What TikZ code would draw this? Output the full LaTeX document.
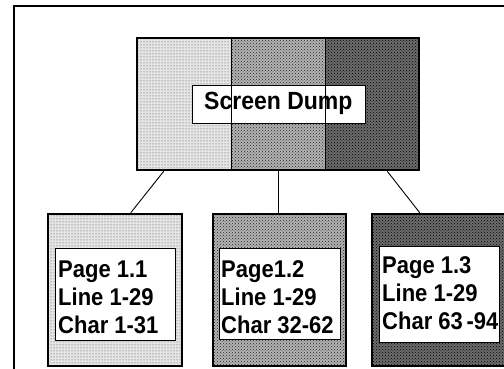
\documentclass[tikz,border=0pt]{standalone}
\usepackage{fontspec}
\setmainfont{Liberation Sans}
\usetikzlibrary{patterns,calc}
\begin{document}
\begin{tikzpicture}[x=1pt,y=-1pt,
  pat1/.style={preaction={fill=black!10}, pattern=dots, pattern color=black!75},
  pat2/.style={preaction={fill=black!30}, pattern=crosshatch dots, pattern color=black!85},
  pat3/.style={preaction={fill=black!58}, pattern=crosshatch dots, pattern color=black},
  bigbox/.style={draw, line width=2.5pt, inner sep=0pt, rectangle},
  label/.style={draw, fill=white, line width=0.9pt, inner sep=0pt, rectangle},
  btxt/.style={font=\bfseries\fontsize{22}{28}\selectfont, inner sep=0pt, anchor=base west, yscale=1.1, transform shape},
  conn/.style={line width=0.9pt}]
\useasboundingbox (0,0) rectangle (504,369);
\fill[white] (0,0) rectangle (504,369);
% outer frame
\draw[line width=1.8pt] (14,400) -- (14,6) -- (520,6);
% top box stripes
\fill[pat1] (137,38) rectangle (231,170);
\fill[pat2] (231,38) rectangle (325,170);
\fill[pat3] (325,38) rectangle (419,170);
\node[bigbox, minimum width=282pt, minimum height=132pt] (top) at (278,104) {};
\node[label, minimum width=173pt, minimum height=38pt] (sdbox) at (278.5,104) {};
\draw[line width=0.9pt] (231,38) -- (231,170);
\draw[line width=0.9pt] (325,38) -- (325,170);
\node[font=\bfseries\fontsize{23}{26}\selectfont, inner sep=0pt, anchor=base west, yscale=1.08, transform shape] (sd) at (204,110) {Screen Dump};
% bottom boxes
\node[bigbox, pat1, minimum width=134pt, minimum height=152pt] (b1) at (115,290) {};
\node[bigbox, pat2, minimum width=133pt, minimum height=152pt] (b2) at (279.5,290) {};
\node[bigbox, pat3, minimum width=134pt, minimum height=152pt] (b3) at (439,290) {};
\node[label, minimum width=120pt, minimum height=92pt] (i1) at (115,294) {};
\node[label, minimum width=121pt, minimum height=91pt] (i2) at (279.5,293.5) {};
\node[label, minimum width=120pt, minimum height=96pt] (i3) at (439,294) {};
% texts
\node[btxt] (t1a) at (58,277) {Page 1.1};
\node[btxt] (t1b) at (58,305) {Line 1-29};
\node[btxt] (t1c) at (58,333) {Char 1-31};
\node[btxt] (t2a) at (221,277) {Page1.2};
\node[btxt] (t2b) at (221,305) {Line 1-29};
\node[btxt] (t2c) at (221,333) {Char 32-62};
\node[btxt] (t3a) at (382,273) {Page 1.3};
\node[btxt] (t3b) at (382,301) {Line 1-29};
\node[btxt] (t3c) at (382,329) {Char 63\,-94};
% connectors
\draw[conn] ([xshift=28pt]top.south west) -- ([xshift=84pt]b1.north west);
\draw[conn] (top.south) -- (top.south |- b2.north);
\draw[conn] ([xshift=-33pt]top.south east) -- ([xshift=49pt]b3.north west);
\end{tikzpicture}
\end{document}
